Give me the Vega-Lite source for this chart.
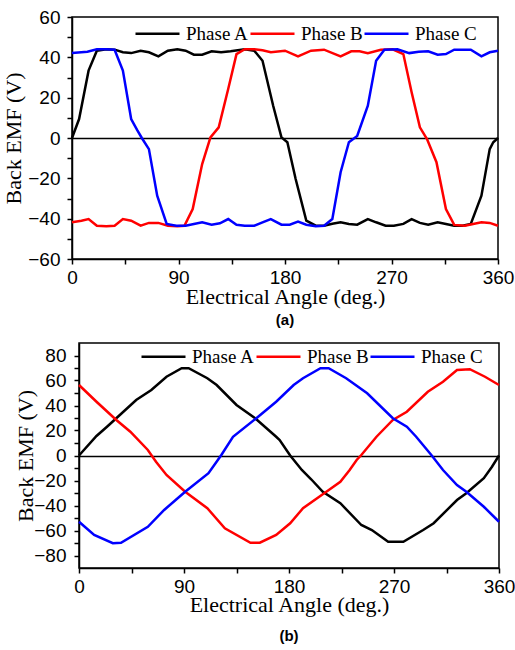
{
  "$schema": "https://vega.github.io/schema/vega-lite/v6.json",
  "padding": {"left": 2, "top": 7, "right": 0, "bottom": 0},
  "background": "white",
  "config": {
    "font": "Liberation Sans",
    "view": {"stroke": "black", "strokeWidth": 1.5},
    "axis": {
      "grid": false,
      "domainColor": "black",
      "domainWidth": 1.5,
      "tickColor": "black",
      "tickWidth": 1.5,
      "tickSize": 5,
      "labelFont": "Liberation Sans",
      "labelFontSize": 19,
      "labelColor": "black",
      "labelFlush": false,
      "labelOverlap": false,
      "titleFont": "Liberation Serif",
      "titleFontSize": 22,
      "titleFontWeight": "normal",
      "titleColor": "black"
    },
    "legend": {
      "labelFont": "Liberation Serif",
      "labelFontSize": 19,
      "labelColor": "black",
      "symbolType": "stroke",
      "symbolSize": 1936,
      "symbolStrokeWidth": 2.5,
      "labelOffset": 5,
      "columnPadding": -5,
      "title": null,
      "direction": "horizontal",
      "orient": "none"
    }
  },
  "datasets": {
    "a": [
      {"s": "Phase A", "x": 0, "y": 0}, {"s": "Phase A", "x": 6, "y": 9.4}, {"s": "Phase A", "x": 14, "y": 33.4}, {"s": "Phase A", "x": 21, "y": 43.3}, {"s": "Phase A", "x": 29, "y": 44}, {"s": "Phase A", "x": 36, "y": 43.8}, {"s": "Phase A", "x": 43, "y": 42.5}, {"s": "Phase A", "x": 50, "y": 42.1}, {"s": "Phase A", "x": 58, "y": 43.3}, {"s": "Phase A", "x": 65, "y": 42.5}, {"s": "Phase A", "x": 73, "y": 40.5}, {"s": "Phase A", "x": 81, "y": 43.3}, {"s": "Phase A", "x": 89, "y": 44}, {"s": "Phase A", "x": 96, "y": 43.3}, {"s": "Phase A", "x": 103, "y": 41.3}, {"s": "Phase A", "x": 110, "y": 41.3}, {"s": "Phase A", "x": 118, "y": 43}, {"s": "Phase A", "x": 126, "y": 42.5}, {"s": "Phase A", "x": 134, "y": 43}, {"s": "Phase A", "x": 146, "y": 44}, {"s": "Phase A", "x": 154, "y": 43.3}, {"s": "Phase A", "x": 161, "y": 38.3}, {"s": "Phase A", "x": 170, "y": 16}, {"s": "Phase A", "x": 177, "y": 0.3}, {"s": "Phase A", "x": 182, "y": -2.1}, {"s": "Phase A", "x": 189, "y": -20.3}, {"s": "Phase A", "x": 198, "y": -41}, {"s": "Phase A", "x": 206, "y": -43.5}, {"s": "Phase A", "x": 213, "y": -43.5}, {"s": "Phase A", "x": 220, "y": -42.5}, {"s": "Phase A", "x": 227, "y": -41.8}, {"s": "Phase A", "x": 234, "y": -42.6}, {"s": "Phase A", "x": 241, "y": -43}, {"s": "Phase A", "x": 250, "y": -40.2}, {"s": "Phase A", "x": 257, "y": -41.8}, {"s": "Phase A", "x": 265, "y": -43.5}, {"s": "Phase A", "x": 272, "y": -43.5}, {"s": "Phase A", "x": 280, "y": -42.6}, {"s": "Phase A", "x": 287, "y": -40.2}, {"s": "Phase A", "x": 294, "y": -42.1}, {"s": "Phase A", "x": 301, "y": -43}, {"s": "Phase A", "x": 309, "y": -41.8}, {"s": "Phase A", "x": 316, "y": -42.6}, {"s": "Phase A", "x": 323, "y": -43.5}, {"s": "Phase A", "x": 330, "y": -43.5}, {"s": "Phase A", "x": 337, "y": -42.6}, {"s": "Phase A", "x": 346, "y": -28.6}, {"s": "Phase A", "x": 353, "y": -5.5}, {"s": "Phase A", "x": 356, "y": -2.1}, {"s": "Phase A", "x": 360, "y": 0},
      {"s": "Phase B", "x": 0, "y": -41.8}, {"s": "Phase B", "x": 8, "y": -41}, {"s": "Phase B", "x": 14, "y": -40.2}, {"s": "Phase B", "x": 21, "y": -43.5}, {"s": "Phase B", "x": 29, "y": -43.8}, {"s": "Phase B", "x": 36, "y": -43.5}, {"s": "Phase B", "x": 43, "y": -40.2}, {"s": "Phase B", "x": 50, "y": -41}, {"s": "Phase B", "x": 58, "y": -43.5}, {"s": "Phase B", "x": 65, "y": -42.1}, {"s": "Phase B", "x": 73, "y": -42.1}, {"s": "Phase B", "x": 81, "y": -43.5}, {"s": "Phase B", "x": 89, "y": -43.8}, {"s": "Phase B", "x": 95, "y": -43.5}, {"s": "Phase B", "x": 102, "y": -35.2}, {"s": "Phase B", "x": 110, "y": -12.9}, {"s": "Phase B", "x": 117, "y": 0.3}, {"s": "Phase B", "x": 124, "y": 5.3}, {"s": "Phase B", "x": 132, "y": 24.3}, {"s": "Phase B", "x": 139, "y": 41.6}, {"s": "Phase B", "x": 146, "y": 44}, {"s": "Phase B", "x": 154, "y": 44}, {"s": "Phase B", "x": 161, "y": 43.5}, {"s": "Phase B", "x": 168, "y": 42.5}, {"s": "Phase B", "x": 180, "y": 43.3}, {"s": "Phase B", "x": 191, "y": 40.5}, {"s": "Phase B", "x": 202, "y": 43.3}, {"s": "Phase B", "x": 213, "y": 43.8}, {"s": "Phase B", "x": 227, "y": 40.5}, {"s": "Phase B", "x": 236, "y": 43}, {"s": "Phase B", "x": 243, "y": 43}, {"s": "Phase B", "x": 250, "y": 42.1}, {"s": "Phase B", "x": 261, "y": 43.8}, {"s": "Phase B", "x": 271, "y": 44}, {"s": "Phase B", "x": 280, "y": 41.6}, {"s": "Phase B", "x": 287, "y": 22.7}, {"s": "Phase B", "x": 294, "y": 5.3}, {"s": "Phase B", "x": 300, "y": -0.5}, {"s": "Phase B", "x": 308, "y": -12}, {"s": "Phase B", "x": 316, "y": -35.2}, {"s": "Phase B", "x": 323, "y": -43.1}, {"s": "Phase B", "x": 332, "y": -43.5}, {"s": "Phase B", "x": 339, "y": -42.6}, {"s": "Phase B", "x": 346, "y": -41.8}, {"s": "Phase B", "x": 353, "y": -42.1}, {"s": "Phase B", "x": 360, "y": -43.5},
      {"s": "Phase C", "x": 0, "y": 42.1}, {"s": "Phase C", "x": 13, "y": 42.8}, {"s": "Phase C", "x": 21, "y": 44}, {"s": "Phase C", "x": 29, "y": 44}, {"s": "Phase C", "x": 36, "y": 43.8}, {"s": "Phase C", "x": 43, "y": 33.4}, {"s": "Phase C", "x": 50, "y": 9.4}, {"s": "Phase C", "x": 55, "y": 4}, {"s": "Phase C", "x": 59, "y": 0}, {"s": "Phase C", "x": 65, "y": -5.5}, {"s": "Phase C", "x": 72, "y": -28.6}, {"s": "Phase C", "x": 80, "y": -42.6}, {"s": "Phase C", "x": 88, "y": -43.5}, {"s": "Phase C", "x": 96, "y": -43.5}, {"s": "Phase C", "x": 103, "y": -42.6}, {"s": "Phase C", "x": 110, "y": -41.8}, {"s": "Phase C", "x": 118, "y": -43}, {"s": "Phase C", "x": 125, "y": -42.3}, {"s": "Phase C", "x": 132, "y": -40.2}, {"s": "Phase C", "x": 139, "y": -43}, {"s": "Phase C", "x": 146, "y": -43.5}, {"s": "Phase C", "x": 154, "y": -43.5}, {"s": "Phase C", "x": 161, "y": -41.8}, {"s": "Phase C", "x": 168, "y": -40.2}, {"s": "Phase C", "x": 177, "y": -43}, {"s": "Phase C", "x": 184, "y": -43}, {"s": "Phase C", "x": 191, "y": -41.5}, {"s": "Phase C", "x": 198, "y": -43}, {"s": "Phase C", "x": 206, "y": -43.8}, {"s": "Phase C", "x": 213, "y": -43.5}, {"s": "Phase C", "x": 220, "y": -40.2}, {"s": "Phase C", "x": 227, "y": -17}, {"s": "Phase C", "x": 234, "y": -2.1}, {"s": "Phase C", "x": 241, "y": 1}, {"s": "Phase C", "x": 250, "y": 16}, {"s": "Phase C", "x": 257, "y": 38.3}, {"s": "Phase C", "x": 264, "y": 43.8}, {"s": "Phase C", "x": 275, "y": 44}, {"s": "Phase C", "x": 285, "y": 42.1}, {"s": "Phase C", "x": 293, "y": 42.8}, {"s": "Phase C", "x": 301, "y": 43}, {"s": "Phase C", "x": 309, "y": 41.3}, {"s": "Phase C", "x": 316, "y": 41.6}, {"s": "Phase C", "x": 323, "y": 43.8}, {"s": "Phase C", "x": 337, "y": 43.8}, {"s": "Phase C", "x": 346, "y": 40.5}, {"s": "Phase C", "x": 353, "y": 42.5}, {"s": "Phase C", "x": 360, "y": 43.3}
    ],
    "b": [
      {"s": "Phase A", "x": 0, "y": 0}, {"s": "Phase A", "x": 15, "y": 15.6}, {"s": "Phase A", "x": 24, "y": 23}, {"s": "Phase A", "x": 35, "y": 32.4}, {"s": "Phase A", "x": 49, "y": 44.4}, {"s": "Phase A", "x": 62, "y": 52.4}, {"s": "Phase A", "x": 75, "y": 63}, {"s": "Phase A", "x": 88, "y": 69.8}, {"s": "Phase A", "x": 94, "y": 69.8}, {"s": "Phase A", "x": 110, "y": 61.8}, {"s": "Phase A", "x": 118, "y": 56.4}, {"s": "Phase A", "x": 135, "y": 40.4}, {"s": "Phase A", "x": 151, "y": 29.8}, {"s": "Phase A", "x": 169, "y": 15}, {"s": "Phase A", "x": 172, "y": 12.4}, {"s": "Phase A", "x": 181, "y": 0}, {"s": "Phase A", "x": 191, "y": -11.6}, {"s": "Phase A", "x": 199, "y": -19}, {"s": "Phase A", "x": 209, "y": -29}, {"s": "Phase A", "x": 224, "y": -38.2}, {"s": "Phase A", "x": 242, "y": -55.6}, {"s": "Phase A", "x": 251, "y": -59.6}, {"s": "Phase A", "x": 265, "y": -69}, {"s": "Phase A", "x": 278, "y": -69}, {"s": "Phase A", "x": 295, "y": -59.6}, {"s": "Phase A", "x": 304, "y": -54.2}, {"s": "Phase A", "x": 324, "y": -35.6}, {"s": "Phase A", "x": 332, "y": -30.2}, {"s": "Phase A", "x": 347, "y": -18.2}, {"s": "Phase A", "x": 354, "y": -9}, {"s": "Phase A", "x": 360, "y": 0},
      {"s": "Phase B", "x": 0, "y": 56.4}, {"s": "Phase B", "x": 15, "y": 43}, {"s": "Phase B", "x": 32, "y": 28.4}, {"s": "Phase B", "x": 44, "y": 19}, {"s": "Phase B", "x": 59, "y": 4.4}, {"s": "Phase B", "x": 66, "y": -5}, {"s": "Phase B", "x": 75, "y": -15.6}, {"s": "Phase B", "x": 91, "y": -29}, {"s": "Phase B", "x": 110, "y": -42.2}, {"s": "Phase B", "x": 125, "y": -58.2}, {"s": "Phase B", "x": 147, "y": -69.8}, {"s": "Phase B", "x": 155, "y": -69.8}, {"s": "Phase B", "x": 169, "y": -63.6}, {"s": "Phase B", "x": 181, "y": -54.2}, {"s": "Phase B", "x": 192, "y": -42.2}, {"s": "Phase B", "x": 212, "y": -29}, {"s": "Phase B", "x": 224, "y": -21}, {"s": "Phase B", "x": 232, "y": -11.6}, {"s": "Phase B", "x": 238, "y": -3.6}, {"s": "Phase B", "x": 242, "y": 0.4}, {"s": "Phase B", "x": 255, "y": 15}, {"s": "Phase B", "x": 269, "y": 28.4}, {"s": "Phase B", "x": 281, "y": 35}, {"s": "Phase B", "x": 299, "y": 51}, {"s": "Phase B", "x": 312, "y": 59}, {"s": "Phase B", "x": 324, "y": 68.4}, {"s": "Phase B", "x": 335, "y": 69}, {"s": "Phase B", "x": 348, "y": 63}, {"s": "Phase B", "x": 360, "y": 56.4},
      {"s": "Phase C", "x": 0, "y": -53}, {"s": "Phase C", "x": 13, "y": -63.6}, {"s": "Phase C", "x": 29, "y": -70.2}, {"s": "Phase C", "x": 36, "y": -69.8}, {"s": "Phase C", "x": 59, "y": -57}, {"s": "Phase C", "x": 73, "y": -43.6}, {"s": "Phase C", "x": 91, "y": -29}, {"s": "Phase C", "x": 111, "y": -14.2}, {"s": "Phase C", "x": 119, "y": -3.6}, {"s": "Phase C", "x": 122, "y": 0.4}, {"s": "Phase C", "x": 132, "y": 15}, {"s": "Phase C", "x": 152, "y": 29.8}, {"s": "Phase C", "x": 169, "y": 43}, {"s": "Phase C", "x": 184, "y": 56.4}, {"s": "Phase C", "x": 192, "y": 61.8}, {"s": "Phase C", "x": 207, "y": 69.8}, {"s": "Phase C", "x": 214, "y": 69.8}, {"s": "Phase C", "x": 229, "y": 61.8}, {"s": "Phase C", "x": 247, "y": 49.8}, {"s": "Phase C", "x": 269, "y": 29.8}, {"s": "Phase C", "x": 281, "y": 23}, {"s": "Phase C", "x": 289, "y": 15}, {"s": "Phase C", "x": 302, "y": 0.4}, {"s": "Phase C", "x": 312, "y": -11.6}, {"s": "Phase C", "x": 324, "y": -23.6}, {"s": "Phase C", "x": 332, "y": -29}, {"s": "Phase C", "x": 347, "y": -41}, {"s": "Phase C", "x": 360, "y": -53}
    ]
  },
  "spacing": 4,
  "vconcat": [
    {
      "width": 426,
      "height": 242,
      "title": {"text": "(a)", "orient": "bottom", "font": "Liberation Sans", "fontSize": 15, "fontWeight": "bold", "color": "black", "offset": 6},
      "data": {"name": "a"},
      "mark": {"type": "line", "strokeWidth": 2.5},
      "encoding": {
        "x": {"field": "x", "type": "quantitative", "scale": {"domain": [0, 360], "nice": false},
              "axis": {"title": "Electrical Angle (deg.)", "values": [0, 45, 90, 135, 180, 225, 270, 315, 360], "labelExpr": "datum.value % 90 == 0 ? datum.label : ''", "labelPadding": 4, "titlePadding": -1}},
        "y": {"field": "y", "type": "quantitative", "scale": {"domain": [-60, 60], "nice": false},
              "axis": {"title": "Back EMF (V)", "values": [-60, -50, -40, -30, -20, -10, 0, 10, 20, 30, 40, 50, 60], "labelExpr": "datum.value % 20 == 0 ? datum.label : ''", "labelOverlap": false, "labelPadding": 7, "titlePadding": 2,
                       "grid": true, "gridColor": "black", "gridWidth": 1.5, "gridOpacity": {"condition": {"test": "datum.value === 0", "value": 1}, "value": 0}}},
        "color": {"field": "s", "type": "nominal", "scale": {"domain": ["Phase A", "Phase B", "Phase C"], "range": ["black", "#ff0000", "#0000ff"]},
                  "legend": {"legendX": 62, "legendY": -7}}
      }
    },
    {
      "spacing": -63,
      "hconcat": [
        {
          "width": 1,
          "height": 1,
          "view": {"stroke": null},
          "data": {"values": [{}]},
          "mark": {"type": "point", "opacity": 0},
          "encoding": {}
        },
        {
          "width": 420,
          "height": 225,
          "title": {"text": "(b)", "orient": "bottom", "font": "Liberation Sans", "fontSize": 15, "fontWeight": "bold", "color": "black", "offset": 14},
          "data": {"name": "b"},
          "mark": {"type": "line", "strokeWidth": 2.5},
          "encoding": {
            "x": {"field": "x", "type": "quantitative", "scale": {"domain": [0, 360], "nice": false},
                  "axis": {"title": "Electrical Angle (deg.)", "values": [0, 45, 90, 135, 180, 225, 270, 315, 360], "labelExpr": "datum.value % 90 == 0 ? datum.label : ''", "labelPadding": 4, "titlePadding": -2}},
            "y": {"field": "y", "type": "quantitative", "scale": {"domain": [-90, 90], "nice": false},
                  "axis": {"title": "Back EMF (V)", "values": [-80, -70, -60, -50, -40, -30, -20, -10, 0, 10, 20, 30, 40, 50, 60, 70, 80], "labelExpr": "datum.value % 20 == 0 ? datum.label : ''", "labelOverlap": false, "labelPadding": 8, "titleX": -42, "titleY": 112.5,
                           "grid": true, "gridColor": "black", "gridWidth": 1.5, "gridOpacity": {"condition": {"test": "datum.value === 0", "value": 1}, "value": 0}}},
            "color": {"field": "s", "type": "nominal", "scale": {"domain": ["Phase A", "Phase B", "Phase C"], "range": ["black", "#ff0000", "#0000ff"]},
                      "legend": {"legendX": 68, "legendY": -10}}
          }
        }
      ]
    }
  ],
  "resolve": {"scale": {"color": "independent"}, "legend": {"color": "independent"}}
}
